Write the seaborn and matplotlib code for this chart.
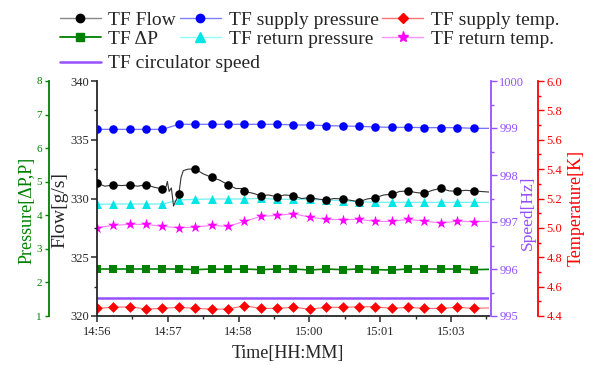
import matplotlib
matplotlib.use("Agg")
import matplotlib.pyplot as plt
from matplotlib.lines import Line2D
from matplotlib.ticker import MultipleLocator, FixedLocator
import seaborn as sns

sns.set_style("ticks")
plt.rcParams["font.family"] = ["Liberation Serif", "DejaVu Serif"]

# time [s] from 14:56 of the marker samples, last value = end of record
t = [0, 18.5, 37, 55.5, 74, 92.5, 111, 129.5, 148, 166.5, 185, 203.5,
     222, 240.5, 259, 277.5, 296, 314.5, 333, 351.5, 370, 388.5, 407, 425.5, 443]
time_ticks = [0, 80, 160, 240, 320, 400]
time_labels = ["14:56", "14:57", "14:58", "15:00", "15:01", "15:03"]

# TF flow [g/s], dense trace + marker values
flow_line_t = [0, 9, 18.5, 28, 37, 46, 55.5, 65, 74, 78, 79.5, 81.5, 84, 86.5, 89,
               92.5, 95, 97.5, 103, 111, 120, 129.5, 139, 148, 157, 163.5, 166.5,
               176, 185, 194, 203.5, 212, 222, 231, 240.5, 250, 259, 268, 277.5,
               286, 296, 305, 314.5, 324, 333, 342, 351.5, 361, 370, 379, 388.5,
               398, 407, 416.5, 425.5, 443]
flow_line = [331.29, 331.05, 331.15, 331.10, 331.15, 331.05, 331.17, 330.95, 330.81,
             331.0, 331.45, 330.6, 330.9, 329.36, 329.8, 330.36, 331.8, 332.37,
             332.5, 332.51, 332.1, 331.80, 331.55, 331.17, 330.85, 330.85, 330.61,
             330.45, 330.24, 330.3, 330.15, 330.3, 330.24, 330.0, 330.07, 329.95,
             329.87, 330.0, 329.96, 329.85, 329.73, 329.95, 330.07, 330.3, 330.36,
             330.6, 330.64, 330.5, 330.44, 330.7, 330.87, 330.65, 330.61, 330.7,
             330.64, 330.55]
flow = [331.29, 331.15, 331.15, 331.17, 330.81, 330.36, 332.51, 331.80, 331.17,
        330.61, 330.24, 330.15, 330.24, 330.07, 329.87, 329.96, 329.73, 330.07,
        330.36, 330.64, 330.44, 330.87, 330.61, 330.64, 330.55]

# pressures [dP, P]
supply_p = [6.56, 6.56, 6.56, 6.56, 6.56, 6.71, 6.71, 6.71, 6.71, 6.71, 6.71, 6.71,
            6.69, 6.69, 6.67, 6.66, 6.65, 6.63, 6.62, 6.62, 6.61, 6.61, 6.61, 6.59, 6.59]
return_p = [4.327, 4.336, 4.336, 4.336, 4.336, 4.455, 4.476, 4.485, 4.485, 4.485,
            4.505, 4.476, 4.476, 4.476, 4.455, 4.435, 4.405, 4.386, 4.386, 4.386,
            4.386, 4.386, 4.386, 4.386, 4.38]
dp = [2.40, 2.40, 2.40, 2.40, 2.40, 2.40, 2.38, 2.40, 2.39, 2.40, 2.38, 2.40,
      2.40, 2.37, 2.40, 2.38, 2.40, 2.38, 2.37, 2.40, 2.40, 2.40, 2.40, 2.38, 2.39]

# temperatures [K]
supply_temp = [4.452, 4.459, 4.463, 4.447, 4.452, 4.459, 4.452, 4.447, 4.447, 4.470,
               4.452, 4.452, 4.459, 4.447, 4.459, 4.459, 4.463, 4.463, 4.452, 4.459,
               4.452, 4.452, 4.459, 4.452, 4.455]
return_temp = [5.001, 5.017, 5.024, 5.024, 5.010, 5.001, 5.005, 5.017, 5.010, 5.044,
               5.078, 5.085, 5.096, 5.073, 5.058, 5.056, 5.058, 5.044, 5.044, 5.058,
               5.046, 5.033, 5.046, 5.042, 5.045]

# circulator speed [Hz]
speed_t = [0, 443]
speed = [995.38, 995.38]

GREEN = "#008000"
PURPLE = "#9650FF"
RED = "#FF0000"

fig = plt.figure(figsize=(5.92, 3.65), dpi=100)
ax = fig.add_axes([97 / 592, 1 - 316 / 365, 392 / 592, 235 / 365])
pax = ax.twinx()
sax = ax.twinx()
tax = ax.twinx()

# pressure axis (far left)
pax.yaxis.tick_left()
pax.yaxis.set_label_position("left")
for name in ["top", "right", "bottom"]:
    pax.spines[name].set_visible(False)
pax.spines["left"].set_position(("axes", -0.1224))
pax.spines["left"].set_color(GREEN)
pax.spines["left"].set_linewidth(1.3)

for a in (sax, tax):
    for name in ["top", "left", "bottom"]:
        a.spines[name].set_visible(False)
sax.spines["right"].set_position(("axes", 1.005))
tax.spines["right"].set_position(("axes", 1.125))
sax.spines["right"].set_color(PURPLE)
tax.spines["right"].set_color(RED)
sax.spines["right"].set_linewidth(1.3)
tax.spines["right"].set_linewidth(1.3)

ax.spines["top"].set_visible(False)
ax.spines["right"].set_visible(False)
ax.spines["left"].set_linewidth(1.3)
ax.spines["bottom"].set_linewidth(1.3)

mt = t[:-1]

# speed
sns.lineplot(x=speed_t, y=speed, ax=sax, color=PURPLE, lw=1.8)
# temperatures
sns.lineplot(x=t, y=supply_temp, ax=tax, color="#FF6A6A", lw=0.8)
sns.scatterplot(x=mt, y=supply_temp[:-1], ax=tax, color=RED, marker="D", s=30,
                linewidth=0, zorder=3)
sns.lineplot(x=t, y=return_temp, ax=tax, color="#FF7AFF", lw=0.8)
sns.scatterplot(x=mt, y=return_temp[:-1], ax=tax, color="#FF00FF", marker="*",
                s=70, linewidth=0, zorder=3)
# pressures
sns.lineplot(x=t, y=dp, ax=pax, color=GREEN, lw=1.2)
sns.scatterplot(x=mt, y=dp[:-1], ax=pax, color=GREEN, marker="s", s=28,
                linewidth=0, zorder=3)
sns.lineplot(x=t, y=supply_p, ax=pax, color="#7070FF", lw=0.9)
sns.scatterplot(x=mt, y=supply_p[:-1], ax=pax, color="#0000FF", marker="o", s=38,
                linewidth=0, zorder=3)
sns.lineplot(x=t, y=return_p, ax=pax, color="#70F0F0", lw=0.9)
sns.scatterplot(x=mt, y=return_p[:-1], ax=pax, color="#00E5E5", marker="^", s=42,
                linewidth=0, zorder=3)
# flow
sns.lineplot(x=flow_line_t, y=flow_line, ax=ax, color="#333333", lw=0.8)
sns.scatterplot(x=mt, y=flow[:-1], ax=ax, color="black", marker="o", s=38,
                linewidth=0, zorder=3)

# flow must stay on top of the twin axes
ax.set_zorder(5)
ax.patch.set_visible(False)

ax.set_xlim(0, 443)
ax.set_ylim(320, 340)
pax.set_ylim(1, 8)
sax.set_ylim(995, 1000)
tax.set_ylim(4.4, 6.0)

ax.xaxis.set_major_locator(FixedLocator(time_ticks))
ax.set_xticklabels(time_labels)
ax.xaxis.set_minor_locator(MultipleLocator(40))
ax.yaxis.set_major_locator(MultipleLocator(5))
ax.yaxis.set_minor_locator(MultipleLocator(2.5))
pax.yaxis.set_major_locator(MultipleLocator(1))
sax.yaxis.set_major_locator(MultipleLocator(1))
sax.yaxis.set_minor_locator(MultipleLocator(0.5))
tax.yaxis.set_minor_locator(MultipleLocator(0.1))
tax.set_yticks([4.4, 4.6, 4.8, 5.0, 5.2, 5.4, 5.6, 5.8, 6.0])
tax.set_yticklabels(["4.4", "4.6", "4.8", "5.0", "5.2", "5.4", "5.6", "5.8", "6.0"])

ax.tick_params(which="major", direction="out", length=4, width=1.1, labelsize=9, pad=2)
ax.tick_params(axis="x", which="major", pad=3.5)
ax.tick_params(which="minor", direction="out", length=2.5, width=1)
pax.tick_params(axis="y", which="both", direction="out", length=3, width=1,
                colors=GREEN, labelsize=8, pad=2)
sax.tick_params(axis="y", which="major", direction="out", length=4, width=1,
                colors=PURPLE, labelsize=9, pad=2)
sax.tick_params(axis="y", which="minor", direction="out", length=2.5, width=1,
                colors=PURPLE)
tax.tick_params(axis="y", which="major", direction="out", length=4, width=1,
                colors=RED, labelsize=9, pad=2)
tax.tick_params(axis="y", which="minor", direction="out", length=2.5, width=1,
                colors=RED)

ax.set_xlabel("Time[HH:MM]", fontsize=13)
ax.xaxis.set_label_coords(0.487, -0.122)
ax.set_ylabel("Flow[g/s]", fontsize=14)
ax.yaxis.set_label_coords(-0.074, 0.45)
pax.set_ylabel("Pressure[ΔP,P]", fontsize=13, color=GREEN)
pax.yaxis.set_label_coords(-0.156, 0.45)
sax.set_ylabel("Speed[Hz]", fontsize=12.5, color=PURPLE)
sax.yaxis.set_label_coords(1.08, 0.44)
tax.set_ylabel("Temperature[K]", fontsize=13, color=RED)
tax.yaxis.set_label_coords(1.2, 0.46)


def handle(line_color, marker=None, mcolor=None, ms=6, lw=1.0):
    return Line2D([], [], color=line_color, lw=lw, marker=marker,
                  markerfacecolor=mcolor, markeredgecolor=mcolor, markersize=ms)


h_flow = handle("#888888", "o", "black", 6)
h_dp = handle(GREEN, "s", GREEN, 5.5, 1.3)
h_sp = handle("#8080FF", "o", "#0000FF", 6)
h_rp = handle("#90FFFF", "^", "#00E5E5", 6.5)
h_st = handle("#FF7070", "D", RED, 5.5)
h_rt = handle("#FF90FF", "*", "#FF00FF", 8)
h_speed = handle(PURPLE, lw=1.8)

leg_kw = dict(frameon=False, fontsize=14, handlelength=2.1, handletextpad=0.4,
              borderpad=0, borderaxespad=0, labelspacing=0.1)
fig.legend([h_flow, h_dp, h_sp, h_rp, h_st, h_rt],
           ["TF Flow", "TF ΔP", "TF supply pressure", "TF return pressure",
            "TF supply temp.", "TF return temp."],
           loc="upper left", bbox_to_anchor=(0.101, 0.97), ncol=3,
           columnspacing=0.2, **leg_kw)
fig.legend([h_speed], ["TF circulator speed"], loc="upper left",
           bbox_to_anchor=(0.101, 0.85), **leg_kw)

fig.savefig("out.png", dpi=100)
